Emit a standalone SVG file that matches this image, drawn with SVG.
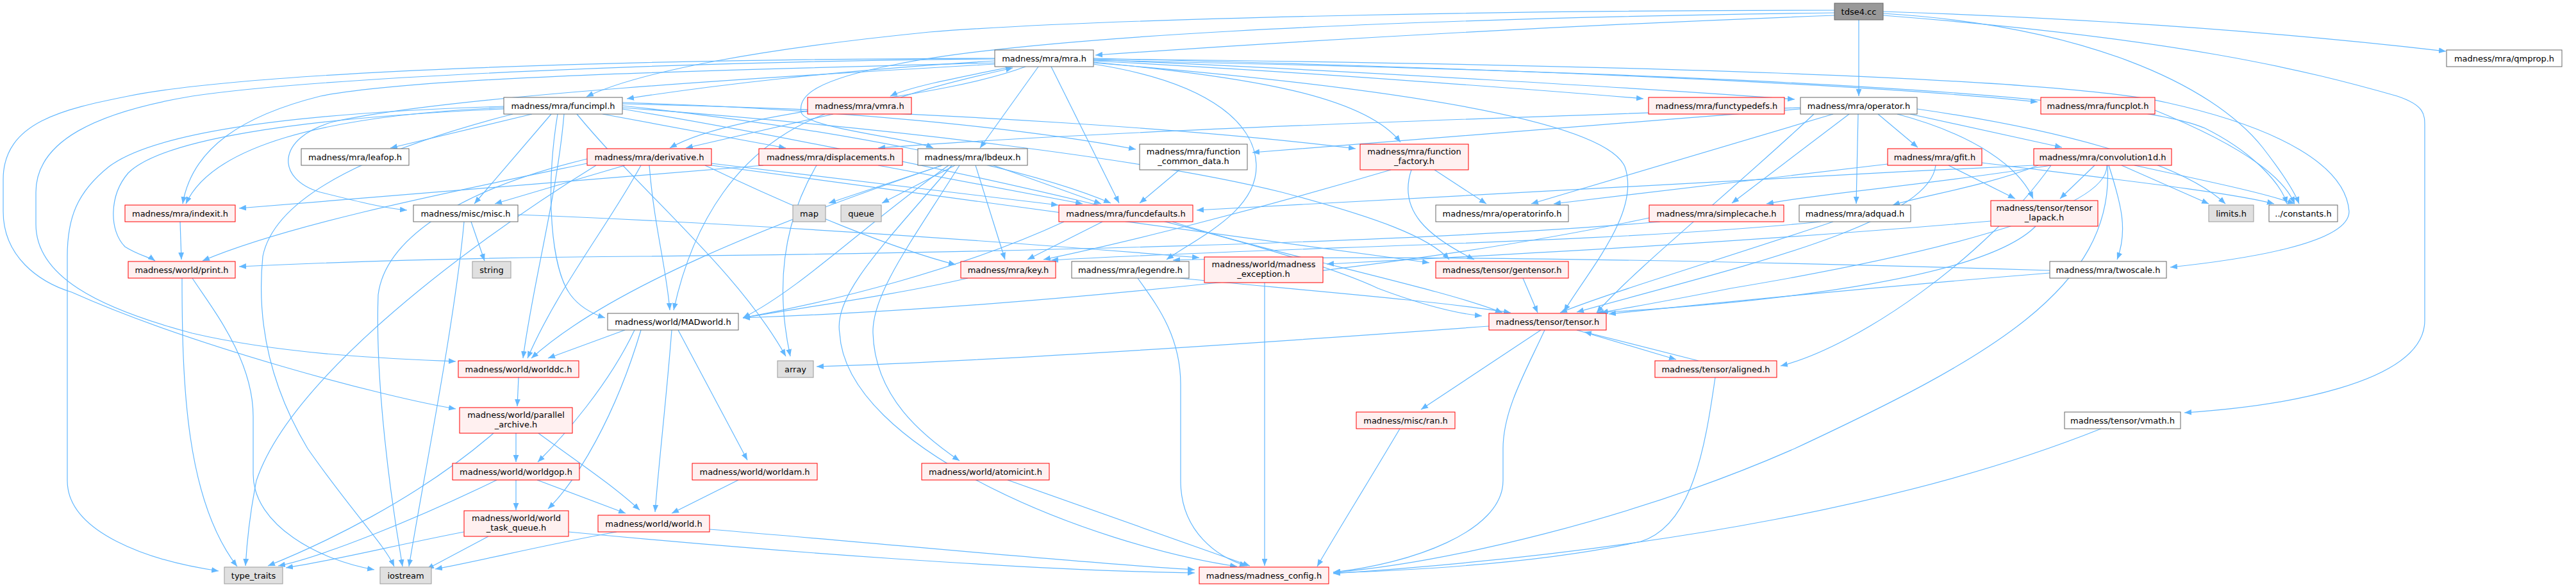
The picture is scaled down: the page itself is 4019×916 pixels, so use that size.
<svg xmlns="http://www.w3.org/2000/svg" width="4019" height="916" viewBox="0 0 4019 916">
<style>
.w{fill:#ffffff;stroke:#666666;stroke-width:1}
.r{fill:#FFF0F0;stroke:#FF0000;stroke-width:1}
.g{fill:#E0E0E0;stroke:#999999;stroke-width:1}
.root{fill:#999999;stroke:#666666;stroke-width:1}
text{font-family:"DejaVu Sans","Liberation Sans",sans-serif;font-size:13px;fill:#000000;text-anchor:middle}
.e{fill:none;stroke:#63B8FF;stroke-width:1.2;marker-end:url(#a)}
</style>
<defs>
<marker id="a" viewBox="0 0 10 8" refX="10" refY="4" markerWidth="11" markerHeight="9" markerUnits="userSpaceOnUse" orient="auto"><path d="M0,0 L10,4 L0,8 z" fill="#63B8FF"/></marker>
</defs>
<rect width="4019" height="916" fill="#ffffff"/>
<g id="connectors">
<path class="e" d="M2862,24 Q2300,45 1709,86"/>
<path class="e" d="M2900,31 L2900,150"/>
<path class="e" d="M2938,18 C3300,30 3600,55 3816,80"/>
<path class="e" d="M2938,21 C3250,40 3450,130 3530,230 C3565,275 3580,300 3587,318"/>
<path class="e" d="M2938,24 C3400,60 3600,110 3740,150 C3785,165 3783,180 3783,200 L3783,500 C3783,600 3550,635 3408,644"/>
<path class="e" d="M2862,16 C2300,16 1700,30 1450,50 C1200,75 1000,110 915,151"/>
<path class="e" d="M2862,20 C2100,30 1600,60 1400,100 C1270,125 1245,150 1250,175 C1255,200 1420,215 1456,231"/>
<path class="e" d="M1706,95 C2000,110 2400,140 2564,154"/>
<path class="e" d="M1706,93 C2100,110 2600,140 2800,155"/>
<path class="e" d="M1706,91 C2300,105 2900,130 3179,159"/>
<path class="e" d="M1706,92 C2500,100 3200,120 3380,160 C3560,200 3660,260 3665,330 C3665,380 3500,405 3386,417"/>
<path class="e" d="M1706,94 C2500,110 3300,140 3440,200 C3520,240 3560,290 3568,318"/>
<path class="e" d="M1580,104 C1500,120 1420,135 1389,150"/>
<path class="e" d="M1405,152 C1470,130 1540,115 1580,106"/>
<path class="e" d="M1552,95 C1300,110 1100,135 978,154"/>
<path class="e" d="M1600,104 C1450,160 1150,170 1045,231"/>
<path class="e" d="M1300,178 L1070,231"/>
<path class="e" d="M1620,104 L1529,231"/>
<path class="e" d="M1640,104 L1746,317"/>
<path class="e" d="M1706,100 C1900,130 1960,200 1960,260 C1960,330 1870,370 1820,405"/>
<path class="e" d="M1706,97 C1950,120 2130,150 2185,222"/>
<path class="e" d="M1706,98 C2100,130 2500,180 2535,260 C2560,330 2480,420 2440,486"/>
<path class="e" d="M1552,98 C1100,110 650,120 500,150 C380,180 300,230 285,318"/>
<path class="e" d="M1552,100 C1200,120 700,150 520,190 C430,215 430,280 500,300 C560,315 600,325 635,328"/>
<path class="e" d="M1552,92 C1100,95 500,120 300,150 C150,175 56,220 56,300 L56,350 C56,430 150,480 300,520 C450,555 620,560 711,564"/>
<path class="e" d="M1552,91 C1000,92 400,110 200,150 C100,170 5,190 5,280 L5,330 C5,400 60,440 112,456 C300,540 600,620 711,638"/>
<path class="e" d="M830,178 L609,231"/>
<path class="e" d="M786,168 C500,180 330,230 290,318"/>
<path class="e" d="M786,170 C450,185 250,220 200,270 C170,305 170,360 195,385 C215,398 235,402 242,407"/>
<path class="e" d="M786,166 C500,175 250,200 170,260 C120,300 105,340 105,400 L105,750 C105,830 230,875 341,891"/>
<path class="e" d="M860,178 L740,318"/>
<path class="e" d="M940,178 L1226,231"/>
<path class="e" d="M971,160 C1300,170 1600,200 1772,233"/>
<path class="e" d="M971,162 C1500,175 1900,205 2115,232"/>
<path class="e" d="M971,165 C1300,200 1600,260 1733,317"/>
<path class="e" d="M971,168 C1400,200 1800,250 2000,300 C2150,340 2230,370 2261,405"/>
<path class="e" d="M880,178 C870,300 830,450 816,559"/>
<path class="e" d="M870,178 C850,300 860,420 890,460 C905,480 925,490 944,496"/>
<path class="e" d="M800,178 C600,230 430,300 410,400 C400,500 420,600 480,700 C550,800 600,850 615,884"/>
<path class="e" d="M971,170 C1500,260 2000,380 2150,450 C2230,480 2280,490 2312,493"/>
<path class="e" d="M900,178 C1000,300 1150,420 1226,556"/>
<path class="e" d="M975,258 L772,318"/>
<path class="e" d="M916,255 C700,300 450,350 316,407"/>
<path class="e" d="M1110,255 L1651,320"/>
<path class="e" d="M1100,258 C1250,330 1400,390 1491,413"/>
<path class="e" d="M1013,258 C1020,350 1040,420 1045,484"/>
<path class="e" d="M1000,258 C950,350 870,450 823,559"/>
<path class="e" d="M1110,258 C1500,310 2000,380 2230,410"/>
<path class="e" d="M930,258 C700,400 450,600 400,750 C390,800 385,850 383,883"/>
<path class="e" d="M916,248 C700,300 600,380 590,460 C585,600 610,780 628,884"/>
<path class="e" d="M1287,178 C1150,230 1080,350 1051,484"/>
<path class="e" d="M1191,258 L373,325"/>
<path class="e" d="M1370,258 L1689,318"/>
<path class="e" d="M1274,258 C1220,350 1210,450 1233,556"/>
<path class="e" d="M1470,258 L1293,317"/>
<path class="e" d="M1490,258 L1376,317"/>
<path class="e" d="M1550,258 L1718,318"/>
<path class="e" d="M1522,258 L1568,405"/>
<path class="e" d="M1470,258 C1200,350 950,450 829,559"/>
<path class="e" d="M1480,258 C1350,350 1250,450 1159,496"/>
<path class="e" d="M1497,258 C1420,380 1360,460 1362,520 C1365,620 1440,680 1497,719"/>
<path class="e" d="M1485,258 C1380,380 1300,460 1310,520 C1320,700 1700,850 1930,884"/>
<path class="e" d="M1840,265 L1778,317"/>
<path class="e" d="M2238,265 L2319,318"/>
<path class="e" d="M2202,265 C2180,330 2230,370 2300,405"/>
<path class="e" d="M2170,265 C1950,330 1750,380 1628,405"/>
<path class="e" d="M3173,258 C2700,280 2200,310 1867,328"/>
<path class="e" d="M2930,178 L2992,230"/>
<path class="e" d="M2980,178 L3217,230"/>
<path class="e" d="M2860,178 L2389,318"/>
<path class="e" d="M2885,178 L2702,317"/>
<path class="e" d="M2899,178 L2896,318"/>
<path class="e" d="M2809,170 C2500,195 2150,220 1954,238"/>
<path class="e" d="M2809,168 C2300,185 1700,205 1370,231"/>
<path class="e" d="M2960,178 C3080,210 3150,260 3172,310"/>
<path class="e" d="M2991,170 C3200,200 3400,250 3472,318"/>
<path class="e" d="M2830,178 C2700,300 2550,420 2491,488"/>
<path class="e" d="M2573,340 C2200,420 1600,480 1159,496"/>
<path class="e" d="M2945,256 L2424,318"/>
<path class="e" d="M3040,258 L3144,310"/>
<path class="e" d="M3092,254 C3300,280 3480,300 3548,318"/>
<path class="e" d="M3020,258 C3010,350 2700,420 2460,487"/>
<path class="e" d="M3268,258 L3214,310"/>
<path class="e" d="M3310,258 L3446,318"/>
<path class="e" d="M3330,258 C3430,280 3530,300 3580,318"/>
<path class="e" d="M3200,258 C3000,290 2850,300 2756,318"/>
<path class="e" d="M3180,258 C3100,290 3000,305 2953,320"/>
<path class="e" d="M3290,258 C3310,320 3320,360 3303,405"/>
<path class="e" d="M3287,258 C3290,330 3000,400 2700,450 C2600,470 2540,480 2498,488"/>
<path class="e" d="M3288,258 C3300,450 3100,560 2800,700 C2550,810 2250,880 2080,893"/>
<path class="e" d="M3200,258 C3100,400 2900,540 2778,571"/>
<path class="e" d="M3362,172 C3480,220 3560,270 3580,318"/>
<path class="e" d="M3106,345 C2700,380 2300,400 2070,412"/>
<path class="e" d="M3176,353 C3100,430 2800,470 2491,488"/>
<path class="e" d="M3198,426 C2900,450 2700,470 2510,490"/>
<path class="e" d="M3198,422 C2800,410 2200,395 1830,406"/>
<path class="e" d="M2590,346 C2200,380 1500,395 1000,400 C700,402 500,410 373,416"/>
<path class="e" d="M1973,441 L1973,883"/>
<path class="e" d="M808,335 C1200,350 1600,380 1871,402"/>
<path class="e" d="M735,346 L756,407"/>
<path class="e" d="M724,346 C710,500 660,750 638,884"/>
<path class="e" d="M281,346 L283,405"/>
<path class="e" d="M284,434 C284,600 290,780 370,884"/>
<path class="e" d="M300,434 C330,480 395,560 395,650 L395,740 C395,820 500,875 584,889"/>
<path class="e" d="M1775,434 C1800,470 1842,520 1842,600 L1842,750 C1842,830 1900,870 1945,883"/>
<path class="e" d="M1510,434 C1400,460 1250,480 1159,496"/>
<path class="e" d="M1660,346 C1500,420 1300,470 1159,496"/>
<path class="e" d="M1829,346 C2000,400 2250,450 2344,488"/>
<path class="e" d="M1720,346 L1603,405"/>
<path class="e" d="M1840,434 C2000,450 2250,470 2357,488"/>
<path class="e" d="M2376,434 L2399,488"/>
<path class="e" d="M2860,346 C2700,400 2500,460 2434,488"/>
<path class="e" d="M2841,346 C2500,380 2000,385 1640,406"/>
<path class="e" d="M2460,515 L2615,561"/>
<path class="e" d="M2650,563 L2472,518"/>
<path class="e" d="M2404,515 L2217,639"/>
<path class="e" d="M2410,515 C2380,580 2345,640 2345,700 L2345,750 C2345,830 2200,880 2080,893"/>
<path class="e" d="M2323,509 C1900,540 1500,565 1274,572"/>
<path class="e" d="M2676,589 C2660,700 2640,820 2560,845 C2400,880 2200,890 2080,894"/>
<path class="e" d="M2184,669 C2130,760 2080,840 2055,884"/>
<path class="e" d="M3278,669 C3000,780 2600,860 2080,895"/>
<path class="e" d="M809,589 L807,634"/>
<path class="e" d="M805,676 L805,721"/>
<path class="e" d="M770,676 C650,780 500,850 418,883"/>
<path class="e" d="M840,676 C900,720 960,760 998,796"/>
<path class="e" d="M975,515 L855,559"/>
<path class="e" d="M990,515 C950,600 880,680 839,721"/>
<path class="e" d="M1000,515 C960,650 900,750 855,794"/>
<path class="e" d="M1048,515 C1040,620 1028,720 1022,799"/>
<path class="e" d="M1058,515 L1166,718"/>
<path class="e" d="M805,749 L805,796"/>
<path class="e" d="M775,749 C650,810 500,870 434,883"/>
<path class="e" d="M838,749 L976,801"/>
<path class="e" d="M1152,749 L1048,801"/>
<path class="e" d="M724,830 C620,850 520,875 446,886"/>
<path class="e" d="M762,837 L666,888"/>
<path class="e" d="M887,830 C1200,860 1600,890 1864,894"/>
<path class="e" d="M962,830 C850,850 750,875 679,888"/>
<path class="e" d="M1107,826 C1400,850 1700,880 1864,889"/>
<path class="e" d="M1572,749 L1950,883"/>
</g>
<g id="n_tdse4"><rect class="root" x="2862" y="5" width="76" height="26"/><text x="2900" y="22.5">tdse4.cc</text></g>
<g id="n_mra"><rect class="w" x="1552" y="78" width="154" height="26"/><text x="1629" y="95.5">madness/mra/mra.h</text></g>
<g id="n_qmprop"><rect class="w" x="3817" y="78" width="180" height="26"/><text x="3907" y="95.5">madness/mra/qmprop.h</text></g>
<g id="n_funcimpl"><rect class="w" x="786" y="152" width="185" height="26"/><text x="878.5" y="169.5">madness/mra/funcimpl.h</text></g>
<g id="n_vmra"><rect class="r" x="1260" y="152" width="162" height="26"/><text x="1341" y="169.5">madness/mra/vmra.h</text></g>
<g id="n_functypedefs"><rect class="r" x="2572" y="152" width="212" height="26"/><text x="2678" y="169.5">madness/mra/functypedefs.h</text></g>
<g id="n_operator"><rect class="w" x="2809" y="152" width="182" height="26"/><text x="2900" y="169.5">madness/mra/operator.h</text></g>
<g id="n_funcplot"><rect class="r" x="3184" y="152" width="178" height="26"/><text x="3273" y="169.5">madness/mra/funcplot.h</text></g>
<g id="n_leafop"><rect class="w" x="470" y="232" width="168" height="26"/><text x="554" y="249.5">madness/mra/leafop.h</text></g>
<g id="n_derivative"><rect class="r" x="916" y="232" width="194" height="26"/><text x="1013" y="249.5">madness/mra/derivative.h</text></g>
<g id="n_displacements"><rect class="r" x="1184" y="232" width="224" height="26"/><text x="1296" y="249.5">madness/mra/displacements.h</text></g>
<g id="n_lbdeux"><rect class="w" x="1432" y="232" width="171" height="26"/><text x="1517.5" y="249.5">madness/mra/lbdeux.h</text></g>
<g id="n_function_common_data"><rect class="w" x="1778" y="225" width="168" height="40"/><text x="1862" y="241">madness/mra/function</text><text x="1862" y="256">_common_data.h</text></g>
<g id="n_function_factory"><rect class="r" x="2122" y="225" width="169" height="40"/><text x="2206.5" y="241">madness/mra/function</text><text x="2206.5" y="256">_factory.h</text></g>
<g id="n_gfit"><rect class="r" x="2945" y="232" width="147" height="26"/><text x="3018.5" y="249.5">madness/mra/gfit.h</text></g>
<g id="n_convolution1d"><rect class="r" x="3173" y="232" width="215" height="26"/><text x="3280.5" y="249.5">madness/mra/convolution1d.h</text></g>
<g id="n_indexit"><rect class="r" x="195" y="320" width="172" height="26"/><text x="281" y="337.5">madness/mra/indexit.h</text></g>
<g id="n_misc"><rect class="w" x="645" y="320" width="163" height="26"/><text x="726.5" y="337.5">madness/misc/misc.h</text></g>
<g id="n_map"><rect class="g" x="1237" y="320" width="51" height="26"/><text x="1262.5" y="337.5">map</text></g>
<g id="n_queue"><rect class="g" x="1312" y="320" width="63" height="26"/><text x="1343.5" y="337.5">queue</text></g>
<g id="n_funcdefaults"><rect class="r" x="1652" y="320" width="209" height="26"/><text x="1756.5" y="337.5">madness/mra/funcdefaults.h</text></g>
<g id="n_operatorinfo"><rect class="w" x="2240" y="320" width="207" height="26"/><text x="2343.5" y="337.5">madness/mra/operatorinfo.h</text></g>
<g id="n_simplecache"><rect class="r" x="2573" y="320" width="210" height="26"/><text x="2678" y="337.5">madness/mra/simplecache.h</text></g>
<g id="n_adquad"><rect class="w" x="2807" y="320" width="174" height="26"/><text x="2894" y="337.5">madness/mra/adquad.h</text></g>
<g id="n_tensor_lapack"><rect class="r" x="3106" y="313" width="167" height="40"/><text x="3189.5" y="329">madness/tensor/tensor</text><text x="3189.5" y="344">_lapack.h</text></g>
<g id="n_limits"><rect class="g" x="3446" y="320" width="70" height="26"/><text x="3481" y="337.5">limits.h</text></g>
<g id="n_constants"><rect class="w" x="3540" y="320" width="107" height="26"/><text x="3593.5" y="337.5">../constants.h</text></g>
<g id="n_print"><rect class="r" x="200" y="408" width="167" height="26"/><text x="283.5" y="425.5">madness/world/print.h</text></g>
<g id="n_string"><rect class="g" x="737" y="408" width="60" height="26"/><text x="767" y="425.5">string</text></g>
<g id="n_key"><rect class="r" x="1499" y="408" width="148" height="26"/><text x="1573" y="425.5">madness/mra/key.h</text></g>
<g id="n_legendre"><rect class="w" x="1672" y="408" width="183" height="26"/><text x="1763.5" y="425.5">madness/mra/legendre.h</text></g>
<g id="n_madness_exception"><rect class="r" x="1879" y="401" width="185" height="40"/><text x="1971.5" y="417">madness/world/madness</text><text x="1971.5" y="432">_exception.h</text></g>
<g id="n_gentensor"><rect class="r" x="2240" y="408" width="207" height="26"/><text x="2343.5" y="425.5">madness/tensor/gentensor.h</text></g>
<g id="n_twoscale"><rect class="w" x="3198" y="408" width="182" height="26"/><text x="3289" y="425.5">madness/mra/twoscale.h</text></g>
<g id="n_MADworld"><rect class="w" x="948" y="489" width="204" height="26"/><text x="1050" y="506.5">madness/world/MADworld.h</text></g>
<g id="n_tensor"><rect class="r" x="2323" y="489" width="183" height="26"/><text x="2414.5" y="506.5">madness/tensor/tensor.h</text></g>
<g id="n_worlddc"><rect class="r" x="715" y="563" width="188" height="26"/><text x="809" y="580.5">madness/world/worlddc.h</text></g>
<g id="n_array"><rect class="g" x="1213" y="563" width="56" height="26"/><text x="1241" y="580.5">array</text></g>
<g id="n_aligned"><rect class="r" x="2582" y="563" width="190" height="26"/><text x="2677" y="580.5">madness/tensor/aligned.h</text></g>
<g id="n_parallel_archive"><rect class="r" x="717" y="636" width="176" height="40"/><text x="805" y="652">madness/world/parallel</text><text x="805" y="667">_archive.h</text></g>
<g id="n_ran"><rect class="r" x="2116" y="643" width="154" height="26"/><text x="2193" y="660.5">madness/misc/ran.h</text></g>
<g id="n_vmath"><rect class="w" x="3221" y="643" width="181" height="26"/><text x="3311.5" y="660.5">madness/tensor/vmath.h</text></g>
<g id="n_worldgop"><rect class="r" x="706" y="723" width="198" height="26"/><text x="805" y="740.5">madness/world/worldgop.h</text></g>
<g id="n_worldam"><rect class="r" x="1080" y="723" width="195" height="26"/><text x="1177.5" y="740.5">madness/world/worldam.h</text></g>
<g id="n_atomicint"><rect class="r" x="1438" y="723" width="199" height="26"/><text x="1537.5" y="740.5">madness/world/atomicint.h</text></g>
<g id="n_world_task_queue"><rect class="r" x="724" y="797" width="163" height="40"/><text x="805.5" y="813">madness/world/world</text><text x="805.5" y="828">_task_queue.h</text></g>
<g id="n_world"><rect class="r" x="933" y="804" width="174" height="26"/><text x="1020" y="821.5">madness/world/world.h</text></g>
<g id="n_type_traits"><rect class="g" x="350" y="885" width="91" height="26"/><text x="395.5" y="902.5">type_traits</text></g>
<g id="n_iostream"><rect class="g" x="593" y="885" width="80" height="26"/><text x="633" y="902.5">iostream</text></g>
<g id="n_madness_config"><rect class="r" x="1871" y="885" width="202" height="26"/><text x="1972" y="902.5">madness/madness_config.h</text></g>
</svg>
